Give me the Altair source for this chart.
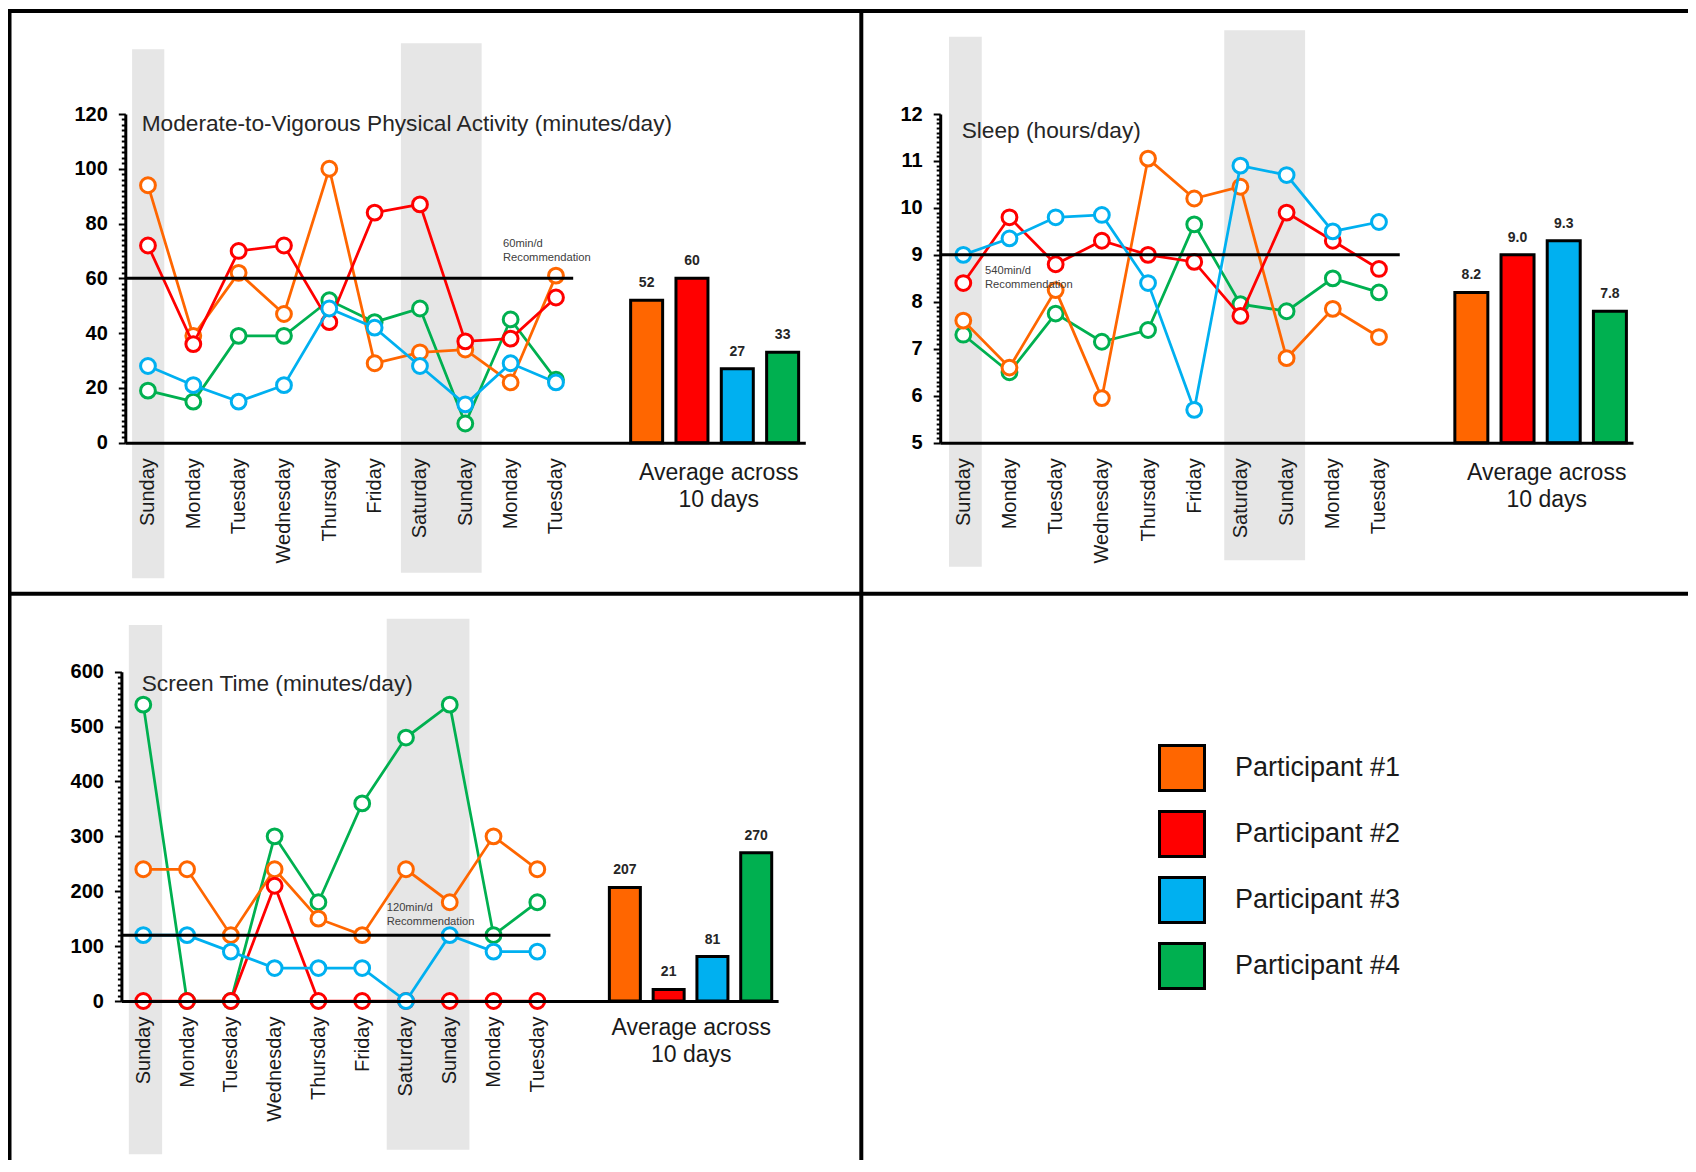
import json
import altair as alt
import pandas as pd

# ---------------- data ----------------
days = ["Sunday", "Monday", "Tuesday", "Wednesday", "Thursday", "Friday",
        "Saturday", "Sunday", "Monday", "Tuesday"]
participants = ["Participant #1", "Participant #2", "Participant #3", "Participant #4"]
colors = ["#FF6600", "#FF0000", "#00B0F0", "#00B050"]
draw_order = [3, 0, 1, 2]  # series stacking as seen in the figure (bottom to top)

mvpa_p1 = [94, 39, 62, 47, 100, 29, 33, 34, 22, 61]
mvpa_p2 = [72, 36, 70, 72, 44, 84, 87, 37, 38, 53]
mvpa_p3 = [28, 21, 15, 21, 49, 42, 28, 14, 29, 22]
mvpa_p4 = [19, 15, 39, 39, 52, 44, 49, 7, 45, 23]
mvpa_avg = [52, 60, 27, 33]
mvpa_rec = 60

sleep_p1 = [7.6, 6.6, 8.25, 5.95, 11.05, 10.2, 10.45, 6.8, 7.85, 7.25]
sleep_p2 = [8.4, 9.8, 8.8, 9.3, 9.0, 8.85, 7.7, 9.9, 9.3, 8.7]
sleep_p3 = [9.0, 9.35, 9.8, 9.85, 8.4, 5.7, 10.9, 10.7, 9.5, 9.7]
sleep_p4 = [7.3, 6.5, 7.75, 7.15, 7.4, 9.65, 7.95, 7.8, 8.5, 8.2]
sleep_avg = [8.2, 9.0, 9.3, 7.8]
sleep_rec = 9

screen_p1 = [240, 240, 120, 240, 150, 120, 240, 180, 300, 240]
screen_p2 = [0, 0, 0, 210, 0, 0, 0, 0, 0, 0]
screen_p3 = [120, 120, 90, 60, 60, 60, 0, 120, 90, 90]
screen_p4 = [540, 0, 0, 300, 180, 360, 480, 540, 120, 180]
screen_avg = [207, 21, 81, 270]
screen_rec = 120

weekend_groups = [(0, 0), (6, 7)]  # day index ranges shaded grey
bar_slots = [11, 12, 13, 14]       # x slots of the average bars

# ---------------- layout ----------------
W, H = 1680, 1152
FONT = "Liberation Sans"
dummy = pd.DataFrame({"a": [0]})
cscale = alt.Scale(domain=participants, range=colors)
legend = alt.Legend(orient="none", legendX=1150, legendY=736, title=None,
                    symbolType="square", symbolSize=2025, symbolStrokeColor="black",
                    symbolStrokeWidth=3, symbolOpacity=1, labelFontSize=27, labelFont=FONT,
                    labelColor="#1a1a1a", labelOffset=29, rowPadding=8, padding=0,
                    labelLimit=400)


def panel(series, avg, avg_fmt, ydom, ymajor, yminor, xr, yr, rec, rec_end,
          title, title_pos, note, note_pos, band_specs, avg_pos, bar_w):
    xs = alt.Scale(domain=[-0.5, 14.5], range=xr, nice=False, zero=False, padding=0)
    ys = alt.Scale(domain=ydom, range=yr, nice=False, zero=False, padding=0)
    n = int(round((ydom[1] - ydom[0]) / yminor))
    yvals = [round(ydom[0] + i * yminor, 4) for i in range(n + 1)]
    major = f"abs(datum.value/{ymajor} - round(datum.value/{ymajor})) < 0.001"
    xaxis = alt.Axis(orient="bottom", offset=yr[0] - H, values=list(range(10)),
                     labelExpr=json.dumps(days) + "[datum.value]", labelAngle=-90,
                     labelAlign="right", labelBaseline="middle", labelFontSize=20,
                     labelFont=FONT, labelColor="#1a1a1a", labelPadding=15, ticks=False,
                     domainColor="black", domainWidth=3, grid=False, title=None,
                     labelOverlap=False, labelFlush=False, zindex=1)
    yaxis = alt.Axis(orient="left", offset=-xr[0], values=yvals,
                     labelExpr=f"{major} ? format(datum.value, 'd') : ''",
                     labelFontSize=20, labelFontWeight="bold", labelFont=FONT,
                     labelColor="black", labelPadding=11,
                     tickSize={"condition": {"test": major, "value": 7}, "value": 4},
                     tickWidth=2, tickColor="black", domainColor="black", domainWidth=3,
                     grid=False, title=None, labelOverlap=False, labelFlush=False, zindex=1)

    def X(f):
        return alt.X(f, scale=xs, axis=xaxis)

    def Y(f):
        return alt.Y(f, scale=ys, axis=yaxis)

    layers = []
    for (a, b), (dlo, dhi, y0, y1) in zip(weekend_groups, band_specs):
        bdf = pd.DataFrame({"x0": [a + dlo], "x1": [b + dhi]})
        layers.append(alt.Chart(bdf).mark_rect(color="#E6E6E6").encode(
            x=X("x0:Q"), x2="x1:Q", y=alt.value(y0), y2=alt.value(y1)))

    for k in draw_order:
        c, vals = colors[k], series[k]
        sdf = pd.DataFrame({"idx": list(range(10)), "value": vals})
        layers.append(alt.Chart(sdf).mark_line(color=c, strokeWidth=2.75).encode(
            x=X("idx:Q"), y=Y("value:Q")))
        layers.append(alt.Chart(sdf).mark_point(shape="circle", filled=True, fill="white",
                                                stroke=c, strokeWidth=3, size=220,
                                                opacity=1).encode(x=X("idx:Q"), y=Y("value:Q")))

    rdf = pd.DataFrame({"x0": [-0.5], "x1": [rec_end], "v": [rec]})
    layers.append(alt.Chart(rdf).mark_rule(color="black", strokeWidth=3).encode(
        x=X("x0:Q"), x2="x1:Q", y=Y("v:Q")))

    bdf = pd.DataFrame({"pos": bar_slots, "value": avg, "base": [ydom[0]] * 4,
                        "participant": participants,
                        "label": [format(v, avg_fmt) for v in avg]})
    layers.append(alt.Chart(bdf).mark_bar(width=bar_w, stroke="black", strokeWidth=3).encode(
        x=X("pos:Q"), y=Y("value:Q"), y2="base:Q",
        color=alt.Color("participant:N", scale=cscale, legend=legend)))
    layers.append(alt.Chart(bdf).mark_text(font=FONT, fontSize=14, fontWeight="bold",
                                           baseline="alphabetic", dy=-13,
                                           color="#262626").encode(
        x=X("pos:Q"), y=Y("value:Q"), text="label:N"))

    layers.append(alt.Chart(dummy).mark_text(text=title, font=FONT, fontSize=22.7, align="left",
                                             baseline="alphabetic", color="#262626").encode(
        x=alt.value(title_pos[0]), y=alt.value(title_pos[1])))
    layers.append(alt.Chart(dummy).mark_text(text=note, font=FONT, fontSize=11.2, align="left",
                                             baseline="top", lineHeight=14,
                                             color="#404040").encode(
        x=alt.value(note_pos[0]), y=alt.value(note_pos[1])))
    layers.append(alt.Chart(dummy).mark_text(text=["Average across", "10 days"], font=FONT,
                                             fontSize=23, align="center", baseline="top",
                                             lineHeight=27, color="#1a1a1a").encode(
        x=alt.value(avg_pos[0]), y=alt.value(avg_pos[1])))
    return alt.layer(*layers)


p1 = panel([mvpa_p1, mvpa_p2, mvpa_p3, mvpa_p4], mvpa_avg, "d", [0, 120], 20, 2,
           [117.3, 797.3], [434.7, 106], mvpa_rec, 9.38,
           "Moderate-to-Vigorous Physical Activity (minutes/day)", (133.7, 122.7),
           ["60min/d", "Recommendation"], (495, 230.3),
           [(-0.35, 0.36, 41.3, 570.3), (-0.42, 0.36, 35.3, 564.7)],
           (710.7, 454), 32)

p2 = panel([sleep_p1, sleep_p2, sleep_p3, sleep_p4], sleep_avg, ".1f", [5, 12], 1, 0.1,
           [932.2, 1625], [434.7, 106], sleep_rec, 9.45,
           "Sleep (hours/day)", (953.7, 130.3),
           ["540min/d", "Recommendation"], (977, 257.3),
           [(-0.31, 0.40, 28.8, 558.8), (-0.35, 0.40, 22.3, 552.3)],
           (1538.7, 454), 33)

p3 = panel([screen_p1, screen_p2, screen_p3, screen_p4], screen_avg, "d", [0, 600], 100, 10,
           [113.4, 770.1], [993, 663.7], screen_rec, 9.3,
           "Screen Time (minutes/day)", (133.7, 682.7),
           ["120min/d", "Recommendation"], (378.7, 894),
           [(-0.33, 0.43, 617, 1146.3), (-0.44, 0.45, 610.7, 1141.7)],
           (683.2, 1009.3), 31)


def rule(**kw):
    enc = {k: alt.value(v) for k, v in kw.items()}
    return alt.Chart(dummy).mark_rule(color="black", strokeWidth=4).encode(**enc)


borders = alt.layer(
    rule(x=0, x2=W, y=3),
    rule(x=1.5, y=1, y2=H),
    rule(x=853.3, y=3, y2=H),
    rule(x=0, x2=W, y=585.7),
)

chart = (
    alt.layer(p1, p2, p3, borders)
    .resolve_scale(x="independent", y="independent")
    .resolve_axis(x="independent", y="independent")
    .properties(width=W, height=H, autosize=alt.AutoSizeParams(type="none"), padding=0,
                background="white")
    .configure_view(stroke=None)
)

chart.save("out.html", embed_options={"renderer": "svg", "actions": False})
